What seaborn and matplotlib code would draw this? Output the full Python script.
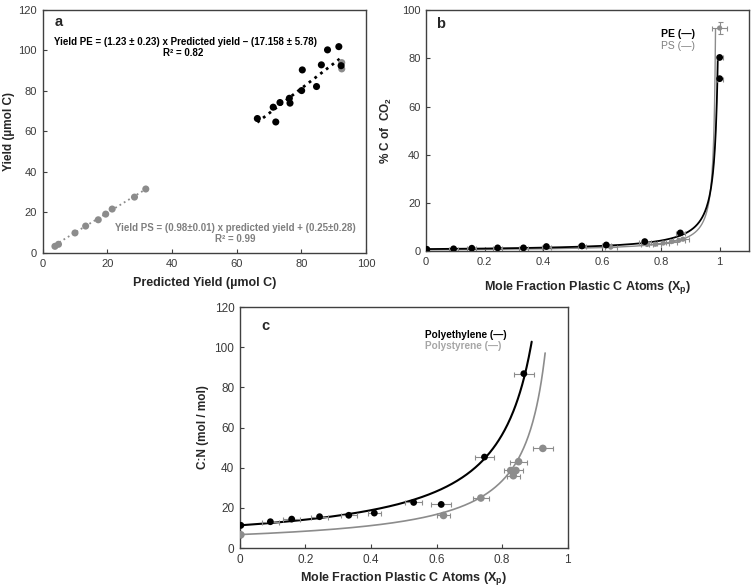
import numpy as np
import pandas as pd
import matplotlib
matplotlib.use("Agg")
import matplotlib.pyplot as plt
import seaborn as sns

sns.set_theme(style="white")
plt.rcParams['font.family'] = ['Liberation Sans', 'DejaVu Sans']
plt.rcParams['mathtext.fontset'] = 'custom'
plt.rcParams['mathtext.rm'] = 'Liberation Sans'
plt.rcParams['mathtext.bf'] = 'Liberation Sans:bold'
plt.rcParams['mathtext.it'] = 'Liberation Sans:italic'

# ---------------- Panel a data ----------------
a_pe_pred = [66.4, 71.3, 72.1, 73.4, 76.3, 76.5, 80.1, 80.3, 84.7, 86.2, 88.1, 91.6, 92.3]
a_pe_yield = [66.4, 72.0, 64.7, 74.3, 76.4, 74.0, 80.2, 90.4, 82.2, 92.9, 100.3, 101.9, 92.5]
a_ps_pred = [3.8, 4.9, 10.0, 13.3, 17.2, 19.5, 21.5, 28.4, 31.9, 92.5, 92.5]
a_ps_yield = [3.3, 4.3, 9.9, 13.3, 16.4, 19.2, 21.7, 27.6, 31.6, 94.0, 90.9]
pe_slope, pe_icpt = 1.23, -17.158
ps_slope, ps_icpt = 0.98, 0.25
pe_fit_range = [66.4, 92.5]
ps_fit_range = [3.8, 32.0]

# ---------------- Panel b data ----------------
b_pe_x = [0.003, 0.094, 0.156, 0.244, 0.332, 0.410, 0.531, 0.614, 0.745, 0.866, 1.0, 1.0]
b_pe_y = [0.8, 1.0, 1.25, 1.4, 1.4, 1.95, 2.2, 2.6, 4.0, 7.6, 80.4, 71.6]
b_pe_xerr = [0.0, 0.015, 0.015, 0.015, 0.015, 0.015, 0.015, 0.015, 0.02, 0.015, 0.01, 0.01]
b_ps_x = [0.629, 0.753, 0.781, 0.808, 0.836, 0.861, 0.875, 1.0]
b_ps_y = [1.7, 2.8, 2.9, 3.4, 4.0, 4.5, 5.0, 92.6]
b_ps_xerr = [0.02, 0.02, 0.02, 0.02, 0.02, 0.02, 0.02, 0.025]
b_ps_yerr = [0, 0, 0, 0, 0, 0, 0, 2.5]
b_pe_c0, b_pe_k, b_pe_xend = 0.9, 0.995, 0.9937
b_ps_c0, b_ps_k, b_ps_xend = 0.6, 1.0076, 0.986

# ---------------- Panel c data ----------------
c_pe_x = [0.003, 0.093, 0.158, 0.243, 0.332, 0.410, 0.530, 0.614, 0.746, 0.866]
c_pe_y = [11.3, 13.1, 14.4, 15.6, 16.3, 17.4, 22.7, 21.7, 45.3, 86.8]
c_pe_xerr = [0.0, 0.025, 0.025, 0.025, 0.025, 0.02, 0.025, 0.03, 0.03, 0.03]
c_ps_x = [0.003, 0.621, 0.735, 0.826, 0.842, 0.834, 0.850, 0.924]
c_ps_y = [6.6, 16.2, 24.9, 38.6, 38.6, 36.0, 43.0, 49.6]
c_ps_xerr = [0.0, 0.02, 0.025, 0.02, 0.02, 0.02, 0.025, 0.03]
c_pe_cn0, c_pe_xend = 11.3, 0.89
c_ps_cn0, c_ps_xend = 6.7, 0.931

BLACK = '#000000'
GRAY = '#8c8c8c'
TXTGRAY = '#7f7f7f'
TICKC = '#404040'
ERRC = '#8c8c8c'

fig = plt.figure(figsize=(7.52, 5.87), dpi=100)
ax_a = fig.add_axes([0.0567, 0.569, 0.43, 0.414])
ax_b = fig.add_axes([0.5665, 0.572, 0.4295, 0.4106])
ax_c = fig.add_axes([0.319, 0.0664, 0.436, 0.4106])


def style(ax, tsize=8):
    for s in ax.spines.values():
        s.set_color('#404040')
        s.set_linewidth(1.0)
        s.set_visible(True)
    ax.tick_params(direction='in', length=3, width=0.8, colors=TICKC,
                   labelsize=tsize, labelcolor='#3a3a3a', left=True, bottom=True, pad=4)
    ax.grid(False)

# ---------- Panel a ----------
ax = ax_a
xf = np.linspace(pe_fit_range[0], pe_fit_range[1], 50)
sns.lineplot(x=xf, y=pe_slope * xf + pe_icpt, ax=ax, color=BLACK, lw=2.0,
             linestyle=(0, (1, 1.6)), zorder=1)
xf2 = np.linspace(ps_fit_range[0], ps_fit_range[1], 50)
sns.lineplot(x=xf2, y=ps_slope * xf2 + ps_icpt, ax=ax, color=GRAY, lw=1.3,
             linestyle=(0, (1, 1.8)), zorder=1)
sns.scatterplot(x=a_ps_pred, y=a_ps_yield, ax=ax, color=GRAY, s=26,
                edgecolor='none', zorder=2)
sns.scatterplot(x=a_pe_pred, y=a_pe_yield, ax=ax, color=BLACK, s=26,
                edgecolor='none', zorder=3)
ax.set_xlim(0, 100)
ax.set_ylim(0, 120)
ax.set_xticks(range(0, 101, 20))
ax.set_yticks(range(0, 121, 20))
ax.set_xlabel('Predicted Yield (µmol C)', fontsize=9, fontweight='bold', labelpad=6)
ax.set_ylabel('Yield (µmol C)', fontsize=8.5, fontweight='bold')
ax.yaxis.set_label_coords(-0.085, 0.5)
ax.text(3.8, 114, 'a', fontsize=10.5, fontweight='bold', va='center', ha='left')
ax.text(44.3, 104.2, 'Yield PE = (1.23 ± 0.23) x Predicted yield – (17.158 ± 5.78)',
        fontsize=7.0, fontweight='bold', ha='center', va='center', color=BLACK)
ax.text(43.4, 98.6, 'R² = 0.82', fontsize=7.0, fontweight='bold', ha='center',
        va='center', color=BLACK)
ax.text(59.5, 12.3, 'Yield PS = (0.98±0.01) x predicted yield + (0.25±0.28)',
        fontsize=7.0, fontweight='bold', ha='center', va='center', color=TXTGRAY)
ax.text(59.5, 7.0, 'R² = 0.99', fontsize=7.0, fontweight='bold', ha='center',
        va='center', color=TXTGRAY)
style(ax)

# ---------- Panel b ----------
ax = ax_b
xb = np.linspace(0, b_ps_xend, 600)
sns.lineplot(x=xb, y=b_ps_c0 / (1 - b_ps_k * xb), ax=ax, color=GRAY, lw=1.0, zorder=1)
xb2 = np.linspace(0, b_pe_xend, 600)
sns.lineplot(x=xb2, y=b_pe_c0 / (1 - b_pe_k * xb2), ax=ax, color=BLACK, lw=1.3, zorder=1)
ax.errorbar(b_ps_x, b_ps_y, xerr=b_ps_xerr, yerr=b_ps_yerr, fmt='none',
            ecolor=ERRC, elinewidth=0.8, capsize=1.8, capthick=0.8, zorder=2)
ax.errorbar(b_pe_x, b_pe_y, xerr=b_pe_xerr, fmt='none',
            ecolor=ERRC, elinewidth=0.8, capsize=1.8, capthick=0.8, zorder=2)
sns.scatterplot(x=b_ps_x, y=b_ps_y, ax=ax, color=GRAY, s=14, edgecolor='none', zorder=3)
sns.scatterplot(x=b_pe_x, y=b_pe_y, ax=ax, color=BLACK, s=24, edgecolor='none', zorder=4)
ax.set_xlim(0, 1.1)
ax.set_ylim(0, 100)
ax.set_xticks([0, 0.2, 0.4, 0.6, 0.8, 1.0])
ax.set_xticklabels(['0', '0.2', '0.4', '0.6', '0.8', '1'])
ax.set_yticks(range(0, 101, 20))
ax.set_xlabel(r'Mole Fraction Plastic C Atoms (X$_\mathbf{p}$)', fontsize=9,
              fontweight='bold', labelpad=9)
ax.set_ylabel(r'% C of  CO$_\mathbf{2}$', fontsize=8.5, fontweight='bold')
ax.yaxis.set_label_coords(-0.099, 0.5)
ax.text(0.034, 94.2, 'b', fontsize=10.5, fontweight='bold', va='center', ha='left')
ax.text(0.80, 90.3, 'PE (—)', fontsize=7.5, fontweight='bold', color=BLACK,
        va='center', ha='left')
ax.text(0.80, 85.2, 'PS (—)', fontsize=7.5, color=TXTGRAY, va='center', ha='left')
style(ax)

# ---------- Panel c ----------
ax = ax_c
xc = np.linspace(0, c_ps_xend, 400)
sns.lineplot(x=xc, y=c_ps_cn0 / (1 - xc), ax=ax, color=GRAY, lw=1.2, zorder=1)
xc2 = np.linspace(0, c_pe_xend, 400)
sns.lineplot(x=xc2, y=c_pe_cn0 / (1 - xc2), ax=ax, color=BLACK, lw=1.5, zorder=1)
ax.errorbar(c_ps_x, c_ps_y, xerr=c_ps_xerr, fmt='none', ecolor=ERRC,
            elinewidth=0.8, capsize=1.8, capthick=0.8, zorder=2)
ax.errorbar(c_pe_x, c_pe_y, xerr=c_pe_xerr, fmt='none', ecolor=ERRC,
            elinewidth=0.8, capsize=1.8, capthick=0.8, zorder=2)
sns.scatterplot(x=c_ps_x, y=c_ps_y, ax=ax, color=GRAY, s=30, edgecolor='none', zorder=3)
sns.scatterplot(x=c_pe_x, y=c_pe_y, ax=ax, color=BLACK, s=24, edgecolor='none', zorder=4)
ax.set_xlim(0, 1)
ax.set_ylim(0, 120)
ax.set_xticks([0, 0.2, 0.4, 0.6, 0.8, 1.0])
ax.set_xticklabels(['0', '0.2', '0.4', '0.6', '0.8', '1'])
ax.set_yticks(range(0, 121, 20))
ax.set_xlabel(r'Mole Fraction Plastic C Atoms (X$_\mathbf{p}$)', fontsize=9,
              fontweight='bold', labelpad=3)
ax.set_ylabel('C:N (mol / mol)', fontsize=8.5, fontweight='bold')
ax.yaxis.set_label_coords(-0.095, 0.5)
ax.text(0.066, 110.4, 'c', fontsize=10.5, fontweight='bold', va='center', ha='left')
ax.text(0.566, 106.2, 'Polyethylene (—)', fontsize=7.2, fontweight='bold',
        color=BLACK, va='center', ha='left')
ax.text(0.566, 100.4, 'Polystyrene (—)', fontsize=7.2, fontweight='bold',
        color='#a6a6a6', va='center', ha='left')
style(ax, tsize=8.5)

fig.savefig('out.png', dpi=100, facecolor='white')
